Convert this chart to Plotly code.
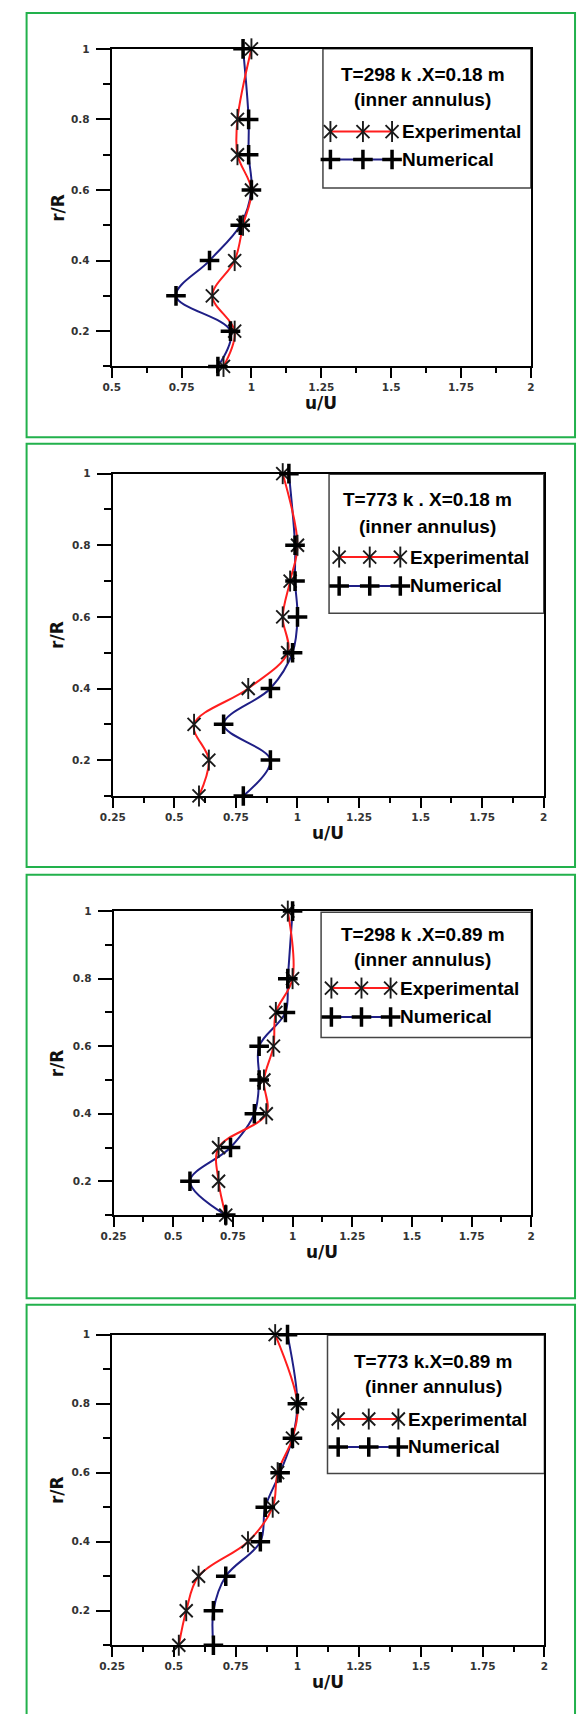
import plotly.graph_objects as go

W, H = 580, 1714

# ---------------- data ----------------
r_vals = [1.0, 0.8, 0.7, 0.6, 0.5, 0.4, 0.3, 0.2, 0.1]

exp_298_018 = [1.00, 0.95, 0.95, 1.00, 0.97, 0.94, 0.86, 0.94, 0.90]
num_298_018 = [0.97, 0.99, 0.99, 1.00, 0.96, 0.85, 0.73, 0.925, 0.88]

exp_773_018 = [0.94, 1.00, 0.97, 0.94, 0.96, 0.80, 0.58, 0.64, 0.60]
num_773_018 = [0.965, 0.99, 0.99, 1.00, 0.98, 0.89, 0.70, 0.89, 0.78]

exp_298_089 = [0.98, 1.00, 0.93, 0.92, 0.88, 0.89, 0.69, 0.69, 0.72]
num_298_089 = [1.00, 0.98, 0.97, 0.86, 0.86, 0.84, 0.74, 0.57, 0.72]

exp_773_089 = [0.91, 1.00, 0.98, 0.92, 0.90, 0.80, 0.60, 0.55, 0.52]
num_773_089 = [0.96, 1.00, 0.98, 0.93, 0.87, 0.85, 0.71, 0.66, 0.66]

panel_titles = ["T=298 k .X=0.18 m", "T=773 k . X=0.18 m",
                "T=298 k .X=0.89 m", "T=773 k.X=0.89 m"]
subtitle = "(inner annulus)"
series_names = ["Experimental", "Numerical"]

x_ticks_a = [0.5, 0.75, 1, 1.25, 1.5, 1.75, 2]
x_ticks_b = [0.25, 0.5, 0.75, 1, 1.25, 1.5, 1.75, 2]
x_tick_labels_a = ["0.5", "0.75", "1", "1.25", "1.5", "1.75", "2"]
x_tick_labels_b = ["0.25", "0.5", "0.75", "1", "1.25", "1.5", "1.75", "2"]
y_ticks = [0.2, 0.4, 0.6, 0.8, 1.0]
y_tick_labels = ["0.2", "0.4", "0.6", "0.8", "1"]
y_minor = [0.1, 0.3, 0.5, 0.7, 0.9]

exp_series = [exp_298_018, exp_773_018, exp_298_089, exp_773_089]
num_series = [num_298_018, num_773_018, num_298_089, num_773_089]

# ---------------- layout geometry (pixels) ----------------
panels = [
    dict(plot=(101.7, 533.5, 43.0, 361.7), xr=(0.5, 2), ticks=(x_ticks_a, x_tick_labels_a),
         border=(14, 579, 7, 432.7), leg=(319.3, 533.5, 43.0, 182.7),
         rows=(26, 51, 83, 111), tcx=422, mk=(327, 360.5, 390.5)),
    dict(plot=(102.8, 546.8, 469.3, 792.7), xr=(0.25, 2), ticks=(x_ticks_b, x_tick_labels_b),
         border=(14, 579, 439.3, 864), leg=(325.6, 546.8, 470.0, 609.3),
         rows=(25, 52, 83, 112), tcx=427, mk=(336, 367.5, 399)),
    dict(plot=(103.6, 533.9, 908.3, 1213.3), xr=(0.25, 2), ticks=(x_ticks_b, x_tick_labels_b),
         border=(14, 579, 871.7, 1296.7), leg=(317.4, 533.9, 909.5, 1035),
         rows=(22, 47, 76, 105), tcx=422, mk=(328, 359, 389)),
    dict(plot=(102.1, 547.5, 1333.3, 1645), xr=(0.25, 2), ticks=(x_ticks_b, x_tick_labels_b),
         border=(14, 579, 1303.3, 1730), leg=(324, 547.5, 1334, 1472.7),
         rows=(26, 51, 84, 112), tcx=433, mk=(335, 366.5, 397)),
]

def px(x):
    return x / W

def py(y):
    return 1 - y / H

RED = "#ff1e1e"
NAVY = "#1f1f86"
GREEN = "#22b14c"
TICKFONT = dict(family="DejaVu Sans", size=10.5, color="#333333", weight="bold")
TITLEFONT = dict(family="DejaVu Sans", size=17, color="#111111", weight="bold")
LEGFONT = dict(family="Liberation Sans, Arial", size=19, color="#000000", weight="bold")

AST = (("x-thin-open", 13, 1.9), ("line-ns-open", 15, 1.9))
PLUS = dict(symbol="cross-thin-open", size=14, color="black", line=dict(color="black", width=3.5))

fig = go.Figure()
shapes, annotations = [], []
layout_axes = {}

for i, p in enumerate(panels):
    n = i + 1
    xa = "x" if n == 1 else f"x{n}"
    ya = "y" if n == 1 else f"y{n}"
    x0, x1, y0, y1 = p["plot"]
    tv, tt = p["ticks"]
    xminor = [v + 0.125 for v in tv[:-1]]

    layout_axes["xaxis" if n == 1 else f"xaxis{n}"] = dict(
        domain=[px(x0), px(x1)], anchor=ya, range=list(p["xr"]),
        tickvals=tv, ticktext=tt, ticks="outside", ticklen=10, tickwidth=1.5,
        tickcolor="black", showline=True, linewidth=2, linecolor="black", mirror=True,
        showgrid=False, zeroline=False, tickfont=TICKFONT, fixedrange=True,
        minor=dict(tickvals=xminor, ticks="outside", ticklen=5, tickwidth=1.5, tickcolor="black",
                   showgrid=False),
    )
    layout_axes["yaxis" if n == 1 else f"yaxis{n}"] = dict(
        domain=[py(y1), py(y0)], anchor=xa, range=[0.1, 1.0],
        tickvals=y_ticks, ticktext=y_tick_labels, ticks="outside", ticklen=14, tickwidth=1.5,
        tickcolor="black", showline=True, linewidth=2, linecolor="black", mirror=True,
        showgrid=False, zeroline=False, tickfont=TICKFONT, fixedrange=True, ticklabelstandoff=4,
        minor=dict(tickvals=y_minor, ticks="outside", ticklen=7, tickwidth=1.5, tickcolor="black",
                   showgrid=False),
    )

    ex, nu = exp_series[i], num_series[i]
    # lines
    fig.add_trace(go.Scatter(x=nu, y=r_vals, xaxis=xa, yaxis=ya, mode="lines",
                             line=dict(color=NAVY, width=2, shape="spline", smoothing=1.0),
                             showlegend=False, hoverinfo="skip", cliponaxis=False))
    fig.add_trace(go.Scatter(x=ex, y=r_vals, xaxis=xa, yaxis=ya, mode="lines",
                             line=dict(color=RED, width=2, shape="spline", smoothing=1.0),
                             showlegend=False, hoverinfo="skip", cliponaxis=False))
    # asterisk markers (6 arms: X + vertical bar)
    for sym, sz, lw in AST:
        fig.add_trace(go.Scatter(x=ex, y=r_vals, xaxis=xa, yaxis=ya, mode="markers",
                                 marker=dict(symbol=sym, size=sz, color="#1a1a1a",
                                             line=dict(color="#1a1a1a", width=lw)),
                                 showlegend=False, name=series_names[0], cliponaxis=False))
    # plus markers
    fig.add_trace(go.Scatter(x=nu, y=r_vals, xaxis=xa, yaxis=ya, mode="markers",
                             marker=PLUS, showlegend=False, name=series_names[1],
                             cliponaxis=False))

    # green panel frame
    bx0, bx1, by0, by1 = p["border"]
    shapes.append(dict(type="rect", xref="paper", yref="paper", x0=px(bx0), x1=px(bx1),
                       y0=py(by1), y1=py(by0), line=dict(color=GREEN, width=2), layer="below"))

    # legend box
    lx0, lx1, ly0, ly1 = p["leg"]
    shapes.append(dict(type="rect", xref="paper", yref="paper", x0=px(lx0), x1=px(lx1),
                       y0=py(ly1), y1=py(ly0), line=dict(color="#444444", width=1.5),
                       fillcolor="white", layer="below"))
    r1, r2, r3, r4 = p["rows"]
    annotations.append(dict(text=panel_titles[i], x=px(p["tcx"]), y=py(ly0 + r1), xref="paper",
                            yref="paper", showarrow=False, xanchor="center", yanchor="middle",
                            font=LEGFONT))
    annotations.append(dict(text=subtitle, x=px(p["tcx"]), y=py(ly0 + r2), xref="paper",
                            yref="paper", showarrow=False, xanchor="center", yanchor="middle",
                            font=LEGFONT))
    m1, m2, m3 = p["mk"]
    for k, (row, color) in enumerate(((r3, RED), (r4, NAVY))):
        yy = ly0 + row
        fig.add_trace(go.Scatter(x=[m1, m2, m3], y=[yy, yy, yy], xaxis="x5", yaxis="y5",
                                 mode="lines", line=dict(color=color, width=2),
                                 showlegend=False, hoverinfo="skip", cliponaxis=False))
        if k == 0:
            for sym, sz, lw in AST:
                fig.add_trace(go.Scatter(x=[m1, m2, m3], y=[yy, yy, yy], xaxis="x5", yaxis="y5",
                                         mode="markers",
                                         marker=dict(symbol=sym, size=sz, color="#1a1a1a",
                                                     line=dict(color="#1a1a1a", width=lw)),
                                         showlegend=False, hoverinfo="skip", cliponaxis=False))
        else:
            fig.add_trace(go.Scatter(x=[m1, m2, m3], y=[yy, yy, yy], xaxis="x5", yaxis="y5",
                                     mode="markers", marker=PLUS,
                                     showlegend=False, hoverinfo="skip", cliponaxis=False))
        annotations.append(dict(text=series_names[k], x=px(m3 + 8), y=py(yy), xref="paper",
                                yref="paper", showarrow=False, xanchor="left", yanchor="middle",
                                font=LEGFONT))

    # axis titles
    annotations.append(dict(text="u/U", x=px((x0 + x1) / 2), y=py(y1 + 37), xref="paper",
                            yref="paper", showarrow=False, xanchor="center", yanchor="middle",
                            font=TITLEFONT))
    annotations.append(dict(text="r/R", x=px(45.5), y=py((y0 + y1) / 2), xref="paper",
                            yref="paper", showarrow=False, xanchor="center", yanchor="middle",
                            textangle=-90, font=TITLEFONT))

# overlay pixel axes for legend samples
layout_axes["xaxis5"] = dict(domain=[0, 1], range=[0, W], visible=False, anchor="y5",
                             fixedrange=True)
layout_axes["yaxis5"] = dict(domain=[0, 1], range=[H, 0], visible=False, anchor="x5",
                             fixedrange=True)

fig.update_layout(
    width=W, height=H, margin=dict(l=0, r=0, t=0, b=0),
    paper_bgcolor="white", plot_bgcolor="rgba(0,0,0,0)",
    shapes=shapes, annotations=annotations, showlegend=False,
    **layout_axes,
)

fig.write_html("out.html", config={"displayModeBar": False},
               post_script="document.body.style.margin='0px';document.body.style.overflow='hidden';")
